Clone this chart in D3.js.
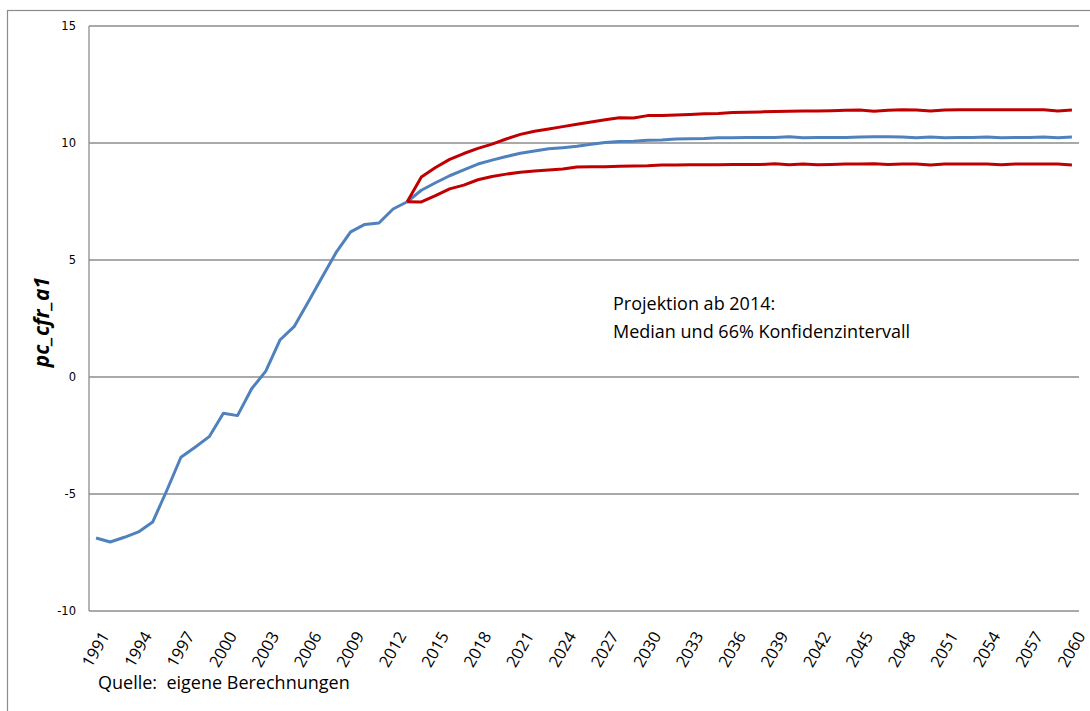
<!DOCTYPE html>
<html lang="de">
<head>
<meta charset="UTF-8">
<title>pc_cfr_a1</title>
<script src="https://d3js.org/d3.v7.min.js"></script>
<style>
  body { margin: 0; background: #fff; }
  svg { display: block; }
</style>
</head>
<body>
<svg id="chart"></svg>
<script>
// years 1991..2060
var years = d3.range(1991, 2061);

// median (blue), history + projection
var median = [
  -6.88, -7.05, -6.85, -6.62, -6.2, -4.85, -3.43, -3.0, -2.55, -1.55,
  -1.65, -0.5, 0.25, 1.58, 2.15, 3.2, 4.28, 5.35, 6.2, 6.52,
  6.58, 7.18, 7.49, 7.98, 8.3, 8.6, 8.85, 9.1, 9.27, 9.42,
  9.56, 9.66, 9.75, 9.8, 9.86, 9.95, 10.02, 10.06, 10.07, 10.12,
  10.13, 10.17, 10.18, 10.19, 10.22, 10.22, 10.23, 10.23, 10.24, 10.27,
  10.22, 10.23, 10.24, 10.23, 10.26, 10.27, 10.27, 10.26, 10.22, 10.26,
  10.22, 10.23, 10.23, 10.26, 10.22, 10.23, 10.23, 10.26, 10.22, 10.26
];

// 66% interval, from 2013
var bandStart = 2013;
var upper = [
  7.49, 8.55, 8.95, 9.3, 9.55, 9.77, 9.95, 10.17, 10.37, 10.5,
  10.6, 10.7, 10.8, 10.9, 10.99, 11.08, 11.07, 11.17, 11.18, 11.2,
  11.22, 11.25, 11.26, 11.3, 11.31, 11.33, 11.35, 11.36, 11.37, 11.37,
  11.38, 11.4, 11.41, 11.36, 11.4, 11.42, 11.41, 11.37, 11.41, 11.42,
  11.42, 11.42, 11.42, 11.42, 11.42, 11.42, 11.37, 11.41
];
var lower = [
  7.49, 7.48, 7.75, 8.04, 8.2, 8.43, 8.57, 8.67, 8.75, 8.8,
  8.85, 8.89, 8.97, 8.98, 8.98, 9.01, 9.02, 9.03, 9.06, 9.06,
  9.07, 9.07, 9.07, 9.08, 9.08, 9.08, 9.11, 9.07, 9.1, 9.07,
  9.08, 9.1, 9.1, 9.11, 9.08, 9.1, 9.1, 9.06, 9.1, 9.1,
  9.1, 9.1, 9.07, 9.1, 9.1, 9.1, 9.1, 9.06
];

var yTicks = [-10, -5, 0, 5, 10, 15];
var xTickYears = d3.range(1991, 2061, 3);

var W = 1090, H = 711;
// plot area
var pLeft = 89, pRight = 1079, pTop = 26, pBottom = 611;

var svg = d3.select("#chart").attr("width", W).attr("height", H);

// outer chart border
svg.append("rect")
  .attr("x", 7.5).attr("y", 10.5)
  .attr("width", W + 20).attr("height", H + 20)
  .attr("fill", "none").attr("stroke", "#8c8c8c").attr("stroke-width", 1.2);

var x = d3.scalePoint().domain(years).range([pLeft, pRight]).padding(0.5);
var y = d3.scaleLinear().domain([-10, 15]).range([pBottom, pTop]);

// gridlines
svg.append("g")
  .selectAll("line")
  .data(yTicks)
  .enter().append("line")
  .attr("x1", pLeft).attr("x2", pRight)
  .attr("y1", function(d) { return y(d); })
  .attr("y2", function(d) { return y(d); })
  .attr("stroke", "#8c8c8c").attr("stroke-width", 1.3);

// left axis line
svg.append("line")
  .attr("x1", pLeft).attr("x2", pLeft)
  .attr("y1", pTop).attr("y2", pBottom)
  .attr("stroke", "#8c8c8c").attr("stroke-width", 1.3);

// y axis labels (plain hyphen for negatives, like the original)
var yAxis = d3.axisLeft(y).tickValues(yTicks).tickSize(0).tickPadding(13)
  .tickFormat(function(d) { return String(d); });
var gy = svg.append("g").attr("transform", "translate(" + pLeft + ",0)").call(yAxis);
gy.select(".domain").remove();
gy.selectAll("text")
  .attr("font-family", "DejaVu Sans, sans-serif")
  .attr("font-size", 11.5)
  .attr("fill", "#000");

// x axis labels, rotated
svg.append("g")
  .selectAll("text")
  .data(xTickYears)
  .enter().append("text")
  .attr("transform", function(d) {
    return "translate(" + (x(d) + 9) + "," + (pBottom + 22) + ") rotate(-60)";
  })
  .attr("text-anchor", "end")
  .attr("dy", "0.35em")
  .attr("font-family", "Open Sans, sans-serif")
  .attr("font-size", 16.5)
  .attr("fill", "#000")
  .text(function(d) { return d; });

// lines
var line = d3.line()
  .defined(function(d) { return d[1] != null; })
  .x(function(d) { return x(d[0]); })
  .y(function(d) { return y(d[1]); });

var medianPts = years.map(function(yr, i) { return [yr, median[i]]; });
var upperPts = upper.map(function(v, i) { return [bandStart + i, v]; });
var lowerPts = lower.map(function(v, i) { return [bandStart + i, v]; });

svg.append("path")
  .attr("d", line(medianPts))
  .attr("fill", "none").attr("stroke", "#4f81bd").attr("stroke-width", 3)
  .attr("stroke-linejoin", "round");

[upperPts, lowerPts].forEach(function(pts) {
  svg.append("path")
    .attr("d", line(pts))
    .attr("fill", "none").attr("stroke", "#c00000").attr("stroke-width", 3)
    .attr("stroke-linejoin", "round");
});

// y axis title
svg.append("text")
  .attr("transform", "translate(49,322) rotate(-90)")
  .attr("text-anchor", "middle")
  .attr("font-family", "Open Sans, sans-serif")
  .attr("font-size", 21)
  .attr("font-weight", "bold")
  .attr("font-style", "italic")
  .text("pc_cfr_a1");

// annotation
var note = svg.append("text")
  .attr("font-family", "Open Sans, sans-serif")
  .attr("font-size", 18)
  .attr("fill", "#000");
note.append("tspan").attr("x", 613).attr("y", 310).text("Projektion ab 2014:");
note.append("tspan").attr("x", 613).attr("y", 338).text("Median und 66% Konfidenzintervall");

// source
svg.append("text")
  .attr("x", 98).attr("y", 689)
  .attr("font-family", "Open Sans, sans-serif")
  .attr("font-size", 18)
  .attr("fill", "#000")
  .style("white-space", "pre")
  .text("Quelle:  eigene Berechnungen");
</script>
</body>
</html>
